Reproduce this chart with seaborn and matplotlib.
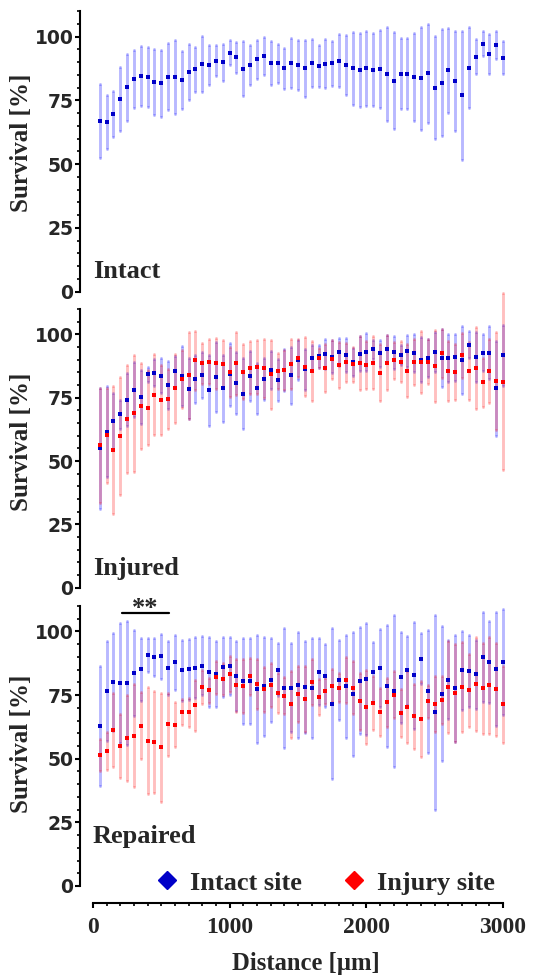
import numpy as np
import pandas as pd
import matplotlib
matplotlib.use("Agg")
import matplotlib.pyplot as plt
from matplotlib.lines import Line2D
from matplotlib.ticker import MultipleLocator
import seaborn as sns

# ---------------------------------------------------------------------------
# Data (mean +/- SD survival per distance bin)
# ---------------------------------------------------------------------------

distance = np.arange(50, 3050, 50)  # µm, 60 bins

intact_mean = [66.9, 66.5, 69.7, 75.7, 80.1, 83.3, 84.6, 84.2, 82.2, 81.7,
               84.3, 84.1, 83.0, 86.1, 87.2, 89.3, 88.8, 90.6, 89.9, 93.7,
               91.9, 87.5, 88.9, 91.1, 92.4, 89.7, 89.5, 87.6, 89.5, 89.0,
               87.6, 89.8, 88.5, 89.4, 89.5, 90.5, 88.8, 87.6, 86.9, 87.7,
               87.1, 87.5, 85.5, 82.7, 85.5, 85.4, 84.2, 83.7, 85.6, 80.0,
               82.0, 86.8, 82.7, 77.0, 87.8, 92.2, 97.3, 93.2, 96.7, 91.8]
intact_sd = [14.5, 10.5, 8.9, 12.6, 13.1, 11.3, 11.8, 11.8, 12.9, 13.0,
             13.2, 14.6, 11.4, 10.9, 8.7, 10.8, 7.8, 6.2, 7.1, 4.9,
             6.2, 10.8, 8.0, 7.6, 7.3, 8.5, 7.5, 8.0, 9.8, 9.8,
             11.1, 9.4, 8.4, 9.6, 8.9, 10.4, 11.8, 14.3, 14.4, 14.7,
             14.4, 15.3, 18.4, 19.0, 13.9, 13.9, 17.1, 20.1, 19.4, 20.3,
             21.1, 16.6, 19.5, 25.4, 15.9, 6.8, 4.9, 7.8, 5.6, 6.5]

injured_intact_mean = [55.0, 61.6, 65.8, 68.4, 74.2, 78.2, 75.3, 84.3, 84.9, 83.6,
                       80.1, 85.4, 83.7, 78.6, 82.4, 83.8, 78.0, 83.3, 78.8, 84.2,
                       80.7, 76.6, 83.6, 78.7, 82.4, 85.9, 82.0, 85.9, 83.9, 89.9,
                       86.2, 90.8, 91.3, 92.4, 91.2, 92.9, 91.7, 89.2, 92.4, 93.0,
                       94.1, 92.6, 94.2, 93.0, 91.8, 93.4, 92.6, 90.0, 90.5, 93.0,
                       90.7, 90.7, 90.9, 90.0, 95.9, 91.1, 92.8, 92.8, 78.7, 91.7]
injured_intact_sd = [23.8, 17.9, 11.2, 5.9, 10.5, 11.0, 10.5, 3.0, 5.4, 6.9,
                     9.5, 6.0, 11.8, 11.9, 9.3, 9.1, 14.0, 13.9, 13.2, 12.3,
                     12.2, 14.0, 9.8, 10.0, 8.4, 7.6, 8.2, 8.2, 11.2, 8.0,
                     8.2, 5.2, 4.5, 5.9, 6.6, 5.5, 6.7, 5.5, 6.9, 7.5,
                     3.7, 5.3, 5.5, 6.5, 4.0, 6.2, 7.4, 8.9, 7.5, 7.9,
                     11.6, 9.5, 9.2, 13.5, 5.3, 9.7, 7.4, 10.4, 18.7, 12.0]
injured_injury_mean = [56.2, 60.1, 54.3, 59.9, 66.6, 68.8, 71.8, 71.1, 76.1, 74.1,
                       74.6, 78.7, 82.5, 83.8, 89.7, 88.6, 89.3, 88.6, 88.3, 85.0,
                       88.6, 85.3, 86.8, 87.1, 86.6, 84.3, 85.5, 85.9, 88.3, 90.5,
                       87.2, 85.5, 90.8, 86.7, 90.1, 87.8, 89.1, 88.3, 88.7, 87.9,
                       88.9, 84.9, 88.8, 89.7, 89.3, 85.7, 89.1, 89.1, 89.3, 87.4,
                       92.5, 85.5, 85.3, 91.7, 85.5, 86.7, 81.1, 85.5, 81.7, 81.4]
injured_injury_sd = [22.8, 18.7, 25.2, 23.3, 21.5, 23.2, 16.9, 14.9, 16.0, 13.7,
                     11.9, 13.7, 11.4, 17.0, 11.5, 8.0, 8.9, 10.0, 9.5, 9.9,
                     12.5, 10.8, 10.5, 10.6, 11.7, 13.6, 7.0, 7.9, 10.0, 7.5,
                     11.6, 11.8, 4.0, 9.6, 7.8, 9.1, 7.7, 6.9, 10.6, 9.4,
                     10.3, 11.2, 10.8, 7.2, 8.2, 10.5, 9.0, 12.3, 9.0, 14.2,
                     9.7, 11.9, 11.1, 8.9, 11.4, 16.3, 9.7, 12.6, 19.3, 35.0]

repaired_intact_mean = [62.9, 76.6, 80.1, 79.7, 79.6, 83.6, 85.2, 90.8, 89.9, 90.2,
                        85.6, 87.8, 84.8, 85.2, 85.7, 86.5, 84.2, 83.4, 86.0, 86.5,
                        82.6, 80.6, 80.6, 77.3, 78.4, 81.0, 85.0, 77.8, 77.8, 79.0,
                        78.1, 77.8, 84.2, 82.6, 71.6, 81.0, 78.5, 75.4, 80.7, 81.3,
                        84.1, 85.5, 78.6, 76.6, 81.9, 84.7, 82.7, 89.2, 76.4, 68.2,
                        75.5, 81.0, 77.6, 84.7, 84.5, 83.2, 89.9, 88.1, 85.2, 87.9]
repaired_intact_sd = [23.6, 19.7, 19.4, 23.5, 24.3, 16.8, 12.4, 6.6, 7.5, 8.7,
                      10.5, 10.9, 12.0, 12.0, 12.0, 11.6, 13.8, 13.0, 11.9, 11.4,
                      13.8, 16.8, 17.0, 21.1, 19.3, 16.5, 10.4, 23.5, 17.5, 20.8,
                      18.0, 19.6, 13.2, 12.3, 29.7, 15.7, 20.2, 24.4, 20.9, 22.0,
                      11.7, 15.3, 24.0, 30.0, 17.8, 13.6, 20.9, 10.0, 24.0, 38.2,
                      26.5, 15.5, 21.0, 15.6, 14.2, 13.5, 17.8, 16.1, 22.3, 20.9]
repaired_injury_mean = [51.4, 52.9, 61.2, 55.0, 58.1, 59.0, 63.0, 57.1, 56.5, 54.5,
                        63.6, 63.4, 68.3, 68.3, 71.0, 78.1, 76.8, 82.0, 81.3, 83.2,
                        78.8, 78.5, 82.4, 79.4, 77.3, 78.9, 75.8, 74.8, 71.3, 75.6,
                        73.4, 80.1, 74.2, 76.5, 78.6, 77.9, 80.9, 77.9, 72.5, 70.3,
                        71.8, 68.3, 72.1, 75.1, 68.0, 70.3, 66.6, 65.5, 72.6, 71.4,
                        73.0, 78.1, 75.8, 78.1, 76.8, 79.4, 77.6, 78.8, 77.3, 71.3]
repaired_injury_sd = [6.3, 7.4, 14.6, 12.4, 17.0, 20.2, 13.2, 21.0, 20.0, 21.5,
                      12.4, 8.7, 5.0, 5.7, 10.0, 6.7, 4.8, 6.5, 6.2, 7.0,
                      10.3, 10.7, 7.2, 9.8, 8.8, 8.5, 7.9, 7.2, 13.0, 11.0,
                      13.0, 9.2, 7.0, 5.2, 6.5, 5.7, 9.2, 10.3, 11.2, 14.4,
                      10.5, 9.3, 9.5, 9.2, 9.5, 14.3, 12.6, 15.0, 6.5, 11.0,
                      9.5, 18.0, 19.4, 17.7, 14.5, 18.5, 17.9, 19.2, 18.3, 15.2]

panel_names = ["Intact", "Injured", "Repaired"]
site_labels = ["Intact site", "Injury site"]
sig_range = (210, 555)   # "**" bracket in the Repaired panel
sig_text = "**"

BLUE_PT = "#0000c8"
RED_PT = "#ff0000"
BLUE_BAR = (0.0, 0.0, 1.0, 0.28)
RED_BAR = (1.0, 0.0, 0.0, 0.25)
SERIF = ["Liberation Serif", "DejaVu Serif"]


def build_frame(mean, sd, site):
    return pd.DataFrame({"distance": distance, "mean": mean, "sd": sd, "site": site})


def draw_site(ax, df, bar_color, pt_color):
    eb = ax.errorbar(df["distance"], df["mean"], yerr=df["sd"], fmt="none",
                     ecolor=bar_color, elinewidth=2.1, capsize=1.05, capthick=2.0)
    for art in list(eb.lines[1]) + list(eb.lines[2]):
        art.set_clip_on(False)
    sns.scatterplot(data=df, x="distance", y="mean", ax=ax, color=pt_color,
                    marker="s", s=5, linewidth=0, zorder=3, clip_on=False, legend=False)


sns.set_theme(style="ticks")
plt.rcParams["font.family"] = SERIF

fig = plt.figure(figsize=(5.46, 9.75), dpi=100)
rects = [(0.1703, 0.7008, 0.751, 0.2877),
         (0.1703, 0.3972, 0.751, 0.2858),
         (0.1703, 0.0913, 0.751, 0.2872)]
label_y = [0.53, 0.523, 0.507]
name_y = [5.5, 5.0, 17.0]

panels = [
    [(build_frame(intact_mean, intact_sd, site_labels[0]), BLUE_BAR, BLUE_PT)],
    [(build_frame(injured_intact_mean, injured_intact_sd, site_labels[0]), BLUE_BAR, BLUE_PT),
     (build_frame(injured_injury_mean, injured_injury_sd, site_labels[1]), RED_BAR, RED_PT)],
    [(build_frame(repaired_intact_mean, repaired_intact_sd, site_labels[0]), BLUE_BAR, BLUE_PT),
     (build_frame(repaired_injury_mean, repaired_injury_sd, site_labels[1]), RED_BAR, RED_PT)],
]

axes = []
for i, rect in enumerate(rects):
    ax = fig.add_axes(rect)
    axes.append(ax)
    for df, bar_c, pt_c in panels[i]:
        draw_site(ax, df, bar_c, pt_c)

    ax.set_xlim(0, 3000)
    ax.set_ylim(0, 110)
    ax.yaxis.set_major_locator(MultipleLocator(25))
    ax.yaxis.set_minor_locator(MultipleLocator(5))
    for side in ["top", "right"]:
        ax.spines[side].set_visible(False)
    ax.spines["left"].set_position(("outward", 9))
    ax.spines["left"].set_linewidth(1.5)
    ax.spines["left"].set_color("black")
    ax.tick_params(axis="y", which="major", length=3.5, width=1.5, pad=1.5, color="black")
    ax.tick_params(axis="y", which="minor", length=2.0, width=1.2, color="black")
    ax.set_yticks([0, 25, 50, 75, 100])
    ax.set_yticklabels(["0", "25", "50", "75", "100"],
                       fontdict=dict(family="DejaVu Sans", weight="bold", size=13.5))
    ax.set_ylabel("Survival [%]", fontsize=18, fontweight="bold")
    ax.yaxis.set_label_coords(-0.147, label_y[i])
    ax.text(0, name_y[i], panel_names[i], fontsize=19, fontweight="bold",
            ha="left", va="baseline")

    if i < 2:
        ax.spines["bottom"].set_visible(False)
        ax.set_xticks([])
        ax.set_xlabel("")

ax = axes[2]
ax.spines["bottom"].set_position(("outward", 12))
ax.spines["bottom"].set_linewidth(1.5)
ax.spines["bottom"].set_color("black")
ax.set_xticks([0, 1000, 2000, 3000])
ax.xaxis.set_minor_locator(MultipleLocator(100))
ax.set_xticklabels(["0", "1000", "2000", "3000"],
                   fontdict=dict(family=SERIF, weight="bold", size=17))
ax.tick_params(axis="x", which="major", length=3.5, width=1.5, pad=7, color="black")
ax.tick_params(axis="x", which="minor", length=2.0, width=1.2, color="black")
ax.set_xlabel("Distance [µm]", fontsize=17.7, fontweight="bold")
ax.xaxis.set_label_coords(0.52, -0.236)

# significance bracket
ax.plot(list(sig_range), [107.3, 107.3], color="black", lw=1.6, clip_on=False)
ax.text(sum(sig_range) / 2, 106.4, sig_text, ha="center", va="baseline",
        fontsize=19, fontweight="bold")

handles = [Line2D([], [], marker="D", linestyle="none", color=BLUE_PT, markersize=9,
                  label=site_labels[0]),
           Line2D([], [], marker="D", linestyle="none", color=RED_PT, markersize=9,
                  label=site_labels[1])]
ax.legend(handles=handles, loc="center left", bbox_to_anchor=(0.149, 0.011), ncol=2,
          frameon=False, prop=dict(family=SERIF, weight="bold", size=19),
          handletextpad=0.38, columnspacing=1.44, handlelength=1.0,
          borderaxespad=0, borderpad=0)

fig.savefig("out.png", dpi=100)
